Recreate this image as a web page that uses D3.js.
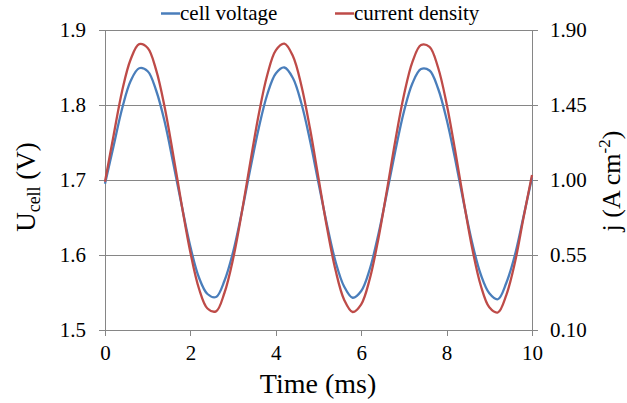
<!DOCTYPE html>
<html>
<head>
<meta charset="utf-8">
<script src="https://cdn.jsdelivr.net/npm/d3@7"></script>
<style>
  html, body { margin: 0; padding: 0; background: #fff; }
  svg text { font-family: "Liberation Serif", "DejaVu Serif", serif; }
</style>
</head>
<body>
<svg id="chart" width="627" height="403"></svg>
<script>
// Sampling times (ms), one sample every 0.2 ms
const timeMs = d3.range(0, 10.0001, 0.2).map(t => +t.toFixed(1));

// Cell voltage U_cell (V)
const cellVoltage = [
  1.695, 1.745, 1.795, 1.832, 1.849, 1.845, 1.819, 1.777, 1.722, 1.665,
  1.611, 1.570, 1.548, 1.544, 1.566, 1.604, 1.656, 1.714, 1.769, 1.814,
  1.842, 1.850, 1.836, 1.802, 1.753, 1.696, 1.640, 1.591, 1.558, 1.543,
  1.552, 1.581, 1.627, 1.682, 1.739, 1.791, 1.829, 1.848, 1.846, 1.822,
  1.781, 1.728, 1.670, 1.616, 1.574, 1.549, 1.541, 1.563, 1.600, 1.651,
  1.703
];

// Current density j (A cm^-2)
const currentDensity = [
  0.990, 1.266, 1.533, 1.723, 1.815, 1.792, 1.658, 1.434, 1.148, 0.845,
  0.565, 0.349, 0.229, 0.212, 0.325, 0.527, 0.800, 1.102, 1.393, 1.630,
  1.778, 1.818, 1.744, 1.566, 1.310, 1.011, 0.713, 0.458, 0.282, 0.208,
  0.254, 0.406, 0.645, 0.935, 1.238, 1.508, 1.709, 1.810, 1.799, 1.675,
  1.458, 1.177, 0.874, 0.590, 0.367, 0.236, 0.205, 0.311, 0.505, 0.772,
  1.030
];

// Axis ticks
const timeTicks = [0, 2, 4, 6, 8, 10];
const voltageTicks = [1.5, 1.6, 1.7, 1.8, 1.9];
const currentTicks = [0.10, 0.55, 1.00, 1.45, 1.90];

const seriesNames = ["cell voltage", "current density"];
const seriesColors = ["#4a7ebb", "#be4b48"];

const serif = "Liberation Serif";
const svg = d3.select("#chart");
const plot = { left: 105, right: 532, top: 30, bottom: 330 };
const axisColor = "#868686";

const x = d3.scaleLinear().domain([0, 10]).range([plot.left, plot.right]);
const yU = d3.scaleLinear().domain([1.5, 1.9]).range([plot.bottom, plot.top]);
const yJ = d3.scaleLinear().domain([0.10, 1.90]).range([plot.bottom, plot.top]);

// Horizontal gridlines
svg.append("g")
  .selectAll("line")
  .data(voltageTicks.slice(1))
  .join("line")
  .attr("x1", plot.left).attr("x2", plot.right)
  .attr("y1", d => yU(d)).attr("y2", d => yU(d))
  .attr("stroke", axisColor).attr("stroke-width", 1)
  .attr("shape-rendering", "crispEdges");

function styleAxis(g) {
  g.attr("font-family", serif).attr("font-size", 21);
  g.selectAll(".domain").attr("stroke", axisColor).attr("shape-rendering", "crispEdges");
  g.selectAll(".tick line").attr("stroke", axisColor).attr("shape-rendering", "crispEdges");
  g.selectAll(".tick text").attr("fill", "#000");
}

// Left axis
svg.append("g")
  .attr("transform", `translate(${plot.left},0)`)
  .call(d3.axisLeft(yU).tickValues(voltageTicks).tickFormat(d3.format(".1f"))
    .tickSizeInner(6).tickSizeOuter(0).tickPadding(13))
  .call(styleAxis);

// Right axis
svg.append("g")
  .attr("transform", `translate(${plot.right},0)`)
  .call(d3.axisRight(yJ).tickValues(currentTicks).tickFormat(d3.format(".2f"))
    .tickSizeInner(6).tickSizeOuter(0).tickPadding(12))
  .call(styleAxis);

// Bottom axis
const xAxisG = svg.append("g")
  .attr("transform", `translate(0,${plot.bottom})`)
  .call(d3.axisBottom(x).tickValues(timeTicks).tickFormat(d3.format("d"))
    .tickSizeInner(6).tickSizeOuter(0).tickPadding(12))
  .call(styleAxis);
xAxisG.selectAll(".tick text").attr("dy", null).attr("y", 30);

// Data lines
const voltageLine = d3.line()
  .x((d, i) => x(timeMs[i]))
  .y(d => yU(d))
  .curve(d3.curveCatmullRom.alpha(0.5));
const currentLine = d3.line()
  .x((d, i) => x(timeMs[i]))
  .y(d => yJ(d))
  .curve(d3.curveCatmullRom.alpha(0.5));

svg.append("path")
  .datum(cellVoltage)
  .attr("d", voltageLine)
  .attr("fill", "none")
  .attr("stroke", seriesColors[0])
  .attr("stroke-width", 2.3)
  .attr("stroke-linejoin", "round");

svg.append("path")
  .datum(currentDensity)
  .attr("d", currentLine)
  .attr("fill", "none")
  .attr("stroke", seriesColors[1])
  .attr("stroke-width", 2.3)
  .attr("stroke-linejoin", "round");

// Legend
const legendX = [161, 335];
const legend = svg.append("g");
seriesNames.forEach((name, i) => {
  legend.append("line")
    .attr("x1", legendX[i]).attr("x2", legendX[i] + 19)
    .attr("y1", 13.5).attr("y2", 13.5)
    .attr("stroke", seriesColors[i]).attr("stroke-width", 2.5);
  legend.append("text")
    .attr("x", legendX[i] + 19).attr("y", 20)
    .attr("font-size", 21)
    .attr("fill", "#000")
    .text(name);
});

// Axis titles
svg.append("text")
  .attr("x", 318).attr("y", 393)
  .attr("text-anchor", "middle")
  .attr("font-size", 28)
  .text("Time (ms)");

const leftTitle = svg.append("text")
  .attr("transform", "translate(35,187) rotate(-90)")
  .attr("text-anchor", "middle")
  .attr("font-size", 27);
leftTitle.append("tspan").text("U");
leftTitle.append("tspan").attr("font-size", 18).attr("dy", 5).text("cell");
leftTitle.append("tspan").attr("dy", -5).text(" (V)");

const rightTitle = svg.append("text")
  .attr("transform", "translate(620,181) rotate(-90)")
  .attr("text-anchor", "middle")
  .attr("font-size", 26);
rightTitle.append("tspan").text("j (A cm");
rightTitle.append("tspan").attr("font-size", 17).attr("dy", -10).text("-2");
rightTitle.append("tspan").attr("dy", 10).text(")");
</script>
</body>
</html>
